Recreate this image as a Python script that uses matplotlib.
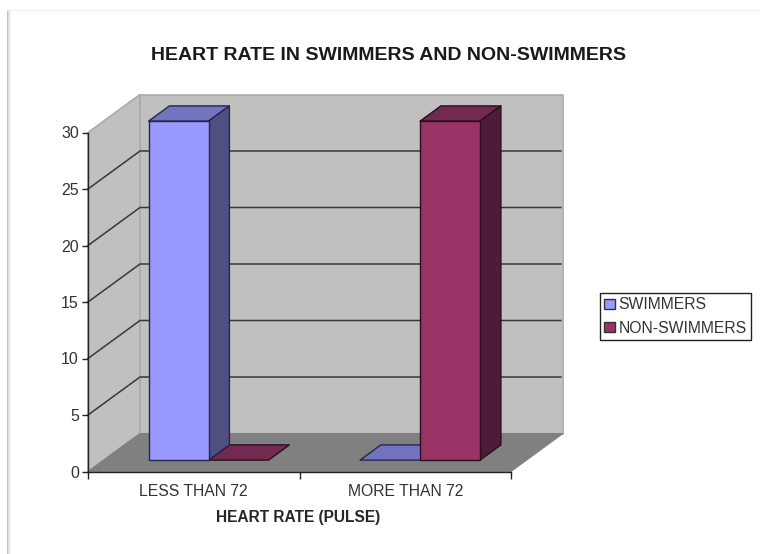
import numpy as np
import matplotlib
matplotlib.use("Agg")
import matplotlib.pyplot as plt
from matplotlib.patches import Polygon, Patch

categories=["LESS THAN 72","MORE THAN 72"]
series_names=["SWIMMERS","NON-SWIMMERS"]
swimmers=[30,0]
non_swimmers=[0,30]
y_ticks=[0,5,10,15,20,25,30]

#<---------------------Colores: frente, lado, tapa-------------------------->
front_colors=["#9999FF","#993366"]
side_colors=["#4F4F82","#4E1C38"]
top_colors=["#7373BF","#732A50"]

plt.rcParams["font.family"]=["Liberation Sans","DejaVu Sans"]
W,H=760,554
fig=plt.figure(figsize=(W/100,H/100),dpi=100,facecolor="white")

x0,x1=88,511;y0,y1=471.5,132.5
ax=fig.add_axes([x0/W,1-y0/H,(x1-x0)/W,(y0-y1)/H])
ax.set_xlim(0,2);ax.set_ylim(0,30)
ax.patch.set_visible(False)

#<---------------------Proyeccion oblicua (profundidad 0 a 1)-------------->
depth_x=52/(x1-x0)*2
depth_y=38/(y0-y1)*30
def proj(x,v,d):
    return (x+d*depth_x,v+d*depth_y)

def face(points,color,edge,lw=1.0,z=2):
    ax.add_patch(Polygon([proj(*p) for p in points],closed=True,facecolor=color,
                         edgecolor=edge,linewidth=lw,clip_on=False,zorder=z,joinstyle="round"))

#<---------------------Paredes y piso-------------------------------------->
wall="#C0C0C0";wall_edge="#ABABAB"
face([(0,0,1),(2,0,1),(2,30,1),(0,30,1)],wall,wall_edge,1.2,1)
face([(0,0,0),(0,0,1),(0,30,1),(0,30,0)],wall,wall_edge,1.2,1)
face([(0,0,0),(2,0,0),(2,0,1),(0,0,1)],"#808080","#808080",0.8,1.1)
for v in y_ticks[1:-1]:
    xs,ys=zip(proj(0,v,0),proj(0,v,1),proj(1.99,v,1))
    ax.plot(xs,ys,color="#383838",lw=1.1,clip_on=False,zorder=1.5)

#<---------------------Barras---------------------------------------------->
bar_w=60/211.5;gap=45/211.5
d_front,d_back=0.30,0.70
z=3
for i in range(len(categories)):
    for j,vals in enumerate([swimmers,non_swimmers]):
        v=vals[i]
        a=i+gap+j*bar_w;b=a+bar_w
        edge="#26264A" if j==0 else "#2A0F1E"
        if v>0:
            face([(a,v,d_front),(b,v,d_front),(b,v,d_back),(a,v,d_back)],top_colors[j],edge,1.0,z)
            face([(b,0,d_front),(b,0,d_back),(b,v,d_back),(b,v,d_front)],side_colors[j],edge,1.0,z)
            face([(a,0,d_front),(b,0,d_front),(b,v,d_front),(a,v,d_front)],front_colors[j],edge,1.0,z+0.1)
        else:
            face([(a,0,d_front),(b,0,d_front),(b,0,d_back),(a,0,d_back)],top_colors[j],edge,1.0,z-0.5)

#<---------------------Ejes------------------------------------------------>
for s in ["top","right"]:
    ax.spines[s].set_visible(False)
for s in ["left","bottom"]:
    ax.spines[s].set_color("#222222");ax.spines[s].set_linewidth(1.0);ax.spines[s].set_zorder(5)
ax.set_yticks(y_ticks)
ax.tick_params(axis="y",length=4,width=1,color="#222222",labelcolor="#333333",labelsize=11.5,pad=2.5)
ax.set_xticks([0,1,2]);ax.set_xticklabels(["","",""])
ax.set_xticks([0.5,1.5],minor=True)
ax.set_xticklabels(categories,minor=True,fontsize=11.3,color="#333333")
ax.tick_params(axis="x",which="major",length=5,width=1,color="#222222")
ax.tick_params(axis="x",which="minor",length=0,pad=9)

#<---------------------Textos---------------------------------------------->
fig.text(388.5/W,1-55/H,"HEART RATE IN SWIMMERS AND NON-SWIMMERS",ha="center",va="center",
         fontsize=14,fontweight="bold",color="#1a1a1a")
fig.text(298.5/W,1-517.5/H,"HEART RATE (PULSE)",ha="center",va="center",
         fontsize=11.2,fontweight="bold",color="#262626")

handles=[Patch(facecolor=c,edgecolor="#333333",linewidth=1) for c in front_colors]
leg=fig.legend(handles,series_names,loc="center left",bbox_to_anchor=(600/W,1-316.5/H),
               fontsize=11.3,frameon=True,fancybox=False,framealpha=1,edgecolor="#222222",
               handlelength=0.65,handleheight=0.65,handletextpad=0.25,labelspacing=0.52,
               borderpad=0.28,borderaxespad=0,labelcolor="#333333")
leg.get_frame().set_linewidth(1.0)

#<---------------------Borde de la pagina---------------------------------->
for k,col in enumerate(["#C4C4C4","#DADADA","#EBEBEB","#F6F6F6"]):
    fig.add_artist(plt.Line2D([(6.5+k)/W,(6.5+k)/W],[0,1-10/H],color=col,lw=0.75))
fig.add_artist(plt.Line2D([7/W,1],[1-10/H,1-10/H],color="#F0F0F0",lw=1))

fig.savefig("out.png",dpi=100,facecolor="white")
